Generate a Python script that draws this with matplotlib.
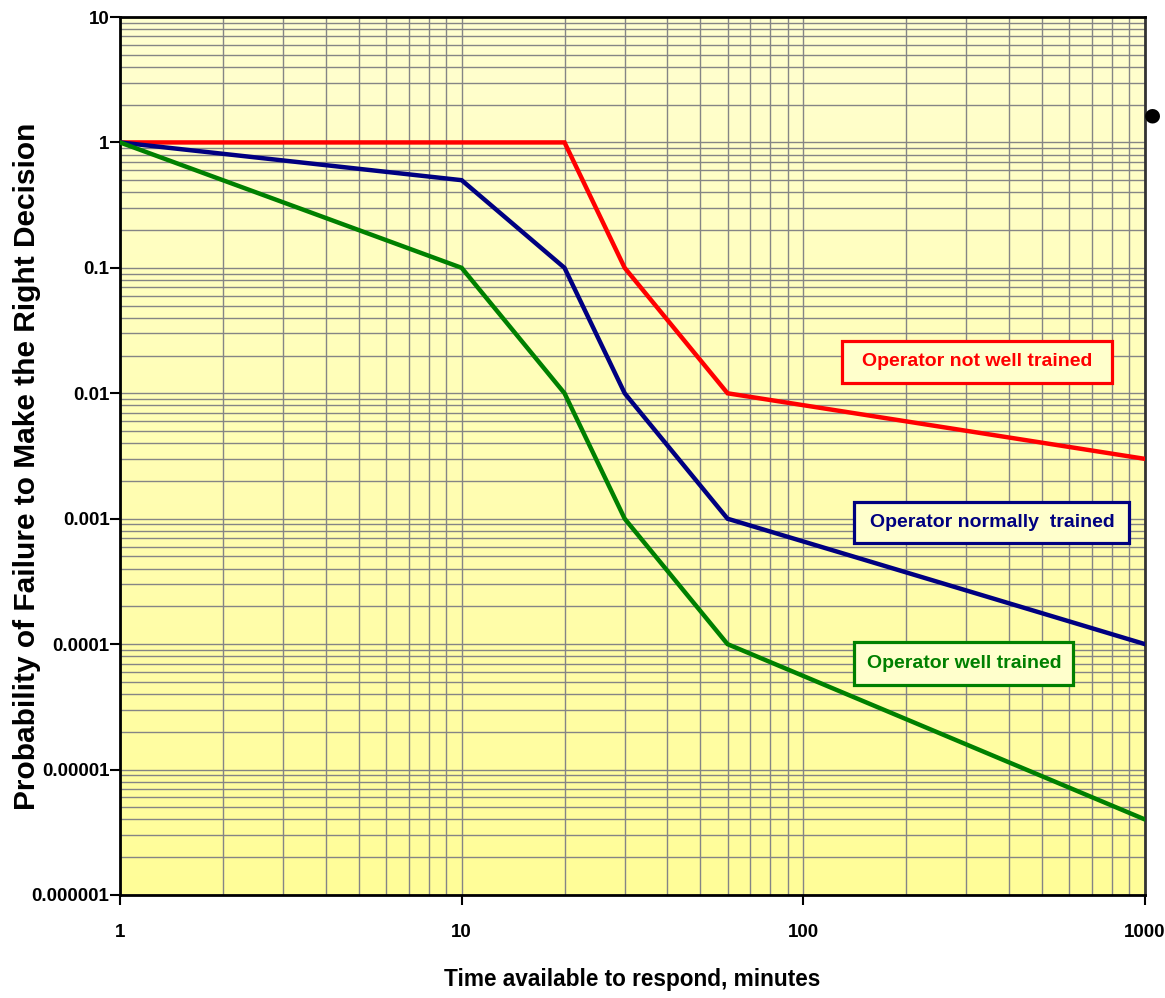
import numpy as np
import matplotlib
matplotlib.use("Agg")
import matplotlib.pyplot as plt
from matplotlib import font_manager
from matplotlib.colors import LinearSegmentedColormap
from matplotlib.patches import Rectangle
from matplotlib.ticker import FixedLocator, LogLocator, NullFormatter

# ---------------------------------------------------------------- dati
x_not_well = [1, 20, 30, 60, 1000]
p_not_well = [1, 1, 0.1, 0.01, 0.003]
x_normal = [1, 10, 20, 30, 60, 1000]
p_normal = [1, 0.5, 0.1, 0.01, 0.001, 0.0001]
x_well = [1, 10, 20, 30, 60, 1000]
p_well = [1, 0.1, 0.01, 0.001, 0.0001, 0.000004]

y_ticks = [10, 1, 0.1, 0.01, 0.001, 0.0001, 0.00001, 0.000001]
y_ticklabels = ['10', '1', '0.1', '0.01', '0.001', '0.0001', '0.00001', '0.000001']
x_ticks = [1, 10, 100, 1000]
x_ticklabels = ['1', '10', '100', '1000']

labels = ['Operator not well trained', 'Operator normally  trained',
          'Operator well trained']
colors = ['#FF0000', '#000080', '#008000']

# font stretta se c'e', altrimenti Liberation Sans
names = {f.name for f in font_manager.fontManager.ttflist}
NARROW = 'Liberation Sans Narrow' if 'Liberation Sans Narrow' in names else 'Liberation Sans'
WIDE = 'Liberation Sans'

fig = plt.figure(figsize=(11.65, 9.98), dpi=100)
ax = fig.add_axes([120 / 1165, 1 - 895 / 998, 1025 / 1165, 878 / 998])

# sfondo a gradiente
grad = LinearSegmentedColormap.from_list('bg', ['#FFFD98', '#FFFFD0'])
ax.imshow(np.linspace(0, 1, 256).reshape(-1, 1), cmap=grad, origin='lower',
          extent=[0, 1, 0, 1], transform=ax.transAxes, aspect='auto',
          zorder=0, interpolation='bilinear')

for xs, ps, c in zip([x_not_well, x_normal, x_well],
                     [p_not_well, p_normal, p_well], colors):
    ax.plot(xs, ps, color=c, lw=3.2, solid_joinstyle='miter', zorder=3)

ax.set_xscale('log')
ax.set_yscale('log')
ax.set_xlim(1, 1000)
ax.set_ylim(1e-6, 10)

ax.yaxis.set_major_locator(FixedLocator(y_ticks))
ax.set_yticklabels(y_ticklabels)
ax.xaxis.set_major_locator(FixedLocator(x_ticks))
ax.set_xticklabels(x_ticklabels)
for axis in (ax.xaxis, ax.yaxis):
    axis.set_minor_locator(LogLocator(base=10, subs=np.arange(2, 10), numticks=20))
    axis.set_minor_formatter(NullFormatter())

ax.set_axisbelow(True)
ax.grid(True, which='both', color='#858585', lw=1.0)
ax.tick_params(which='minor', length=0)
ax.tick_params(which='major', length=7, width=1.5, color='black', direction='out')
ax.tick_params(axis='x', pad=14)
ax.tick_params(axis='y', pad=0.5)
for lab in ax.get_xticklabels() + ax.get_yticklabels():
    lab.set_fontfamily(NARROW)
    lab.set_fontweight('bold')
    lab.set_fontsize(13.5)

for side in ['left', 'bottom', 'top']:
    ax.spines[side].set_color('black')
    ax.spines[side].set_linewidth(2)
ax.spines['right'].set_color('#333333')
ax.spines['right'].set_linewidth(2)

ax.set_xlabel('Time available to respond, minutes', fontsize=16.3,
              fontweight='bold', family=NARROW)
ax.xaxis.set_label_coords((632 - 120) / 1025, -(968 - 895) / 878)
ax.set_ylabel('Probability of Failure to Make the Right Decision',
              fontsize=21.5, fontweight='bold', family=WIDE)
ax.yaxis.set_label_coords(-(120 - 41) / 1025, (895 - 466) / 878)

# etichette in riquadro (riquadri in frazione d'assi)
boxes = [(0.7044, 0.5831, 0.9678, 0.6310),
         (0.7161, 0.4009, 0.9844, 0.4476),
         (0.7161, 0.2392, 0.9298, 0.2882)]
text_pos = [(0.8361, 0.6071), (0.8507, 0.4243), (0.8234, 0.2637)]
for (x0, y0, x1, y1), (px, py), txt, c in zip(boxes, text_pos, labels, colors):
    ax.add_patch(Rectangle((x0, y0), x1 - x0, y1 - y0, transform=ax.transAxes,
                           fc='#FFFFCC', ec=c, lw=2.3, zorder=4))
    ax.text(px, py, txt, transform=ax.transAxes, ha='center', va='center',
            fontsize=14, fontweight='bold', family=NARROW, color=c, zorder=5)

fig.text(1152 / 1165, 1 - 115 / 998, '\u25cf', fontsize=14, ha='center',
         va='center', color='black')

fig.savefig('out.png', dpi=100)
